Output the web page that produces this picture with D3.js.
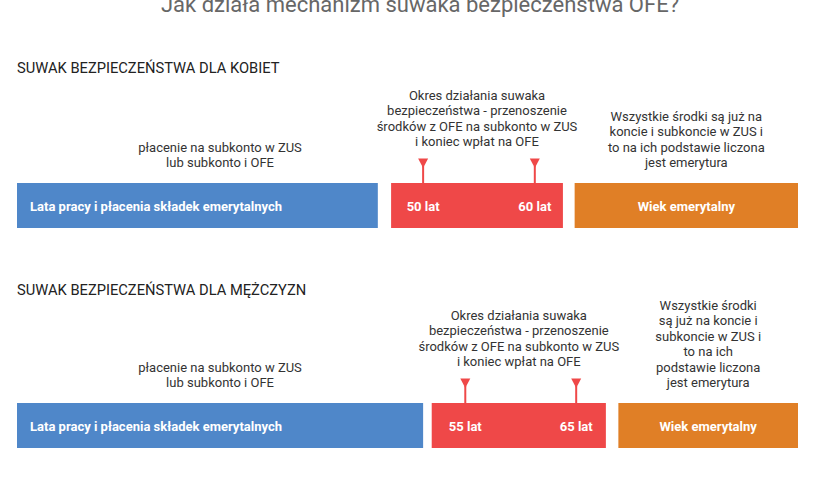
<!DOCTYPE html>
<html>
<head>
<meta charset="utf-8">
<script src="https://cdn.jsdelivr.net/npm/d3@7"></script>
<style>
  html, body { margin: 0; padding: 0; background: #fff; }
  svg { display: block; font-family: Roboto, "Noto Sans", sans-serif; }
</style>
</head>
<body>
<svg id="chart" width="840" height="480"></svg>
<script>
// Data
const TITLE = "Jak działa mechanizm suwaka bezpieczeństwa OFE?";
const ROW_TITLES = ["SUWAK BEZPIECZEŃSTWA DLA KOBIET", "SUWAK BEZPIECZEŃSTWA DLA MĘŻCZYZN"];
const SEGMENT_KEYS = ["praca", "suwak", "emerytura"];
const SEGMENT_LABELS = ["Lata pracy i płacenia składek emerytalnych", "", "Wiek emerytalny"];

// segment extents, in % of the row length
const KOBIETY_SEGMENTS = [[0, 46.2], [47.9, 69.9], [71.4, 100]];
const MEZCZYZNI_SEGMENTS = [[0, 52.0], [53.1, 75.4], [77.0, 100]];

// slider start / end ages and where they sit on the row (%)
const KOBIETY_AGES = [50, 60];
const KOBIETY_AGE_POS = [52.0, 66.3];
const MEZCZYZNI_AGES = [55, 65];
const MEZCZYZNI_AGE_POS = [57.4, 71.6];

// note above the first segment sits at a fixed spot (%)
const FIRST_NOTE_POS = 26.0;

const KOBIETY_NOTES = [
  ["płacenie na subkonto w ZUS", "lub subkonto i OFE"],
  ["Okres działania suwaka", "bezpieczeństwa - przenoszenie", "środków z OFE na subkonto w ZUS", "i koniec wpłat na OFE"],
  ["Wszystkie środki są już na", "koncie i subkoncie w ZUS i", "to na ich podstawie liczona", "jest emerytura"]
];
const MEZCZYZNI_NOTES = [
  ["płacenie na subkonto w ZUS", "lub subkonto i OFE"],
  ["Okres działania suwaka", "bezpieczeństwa - przenoszenie", "środków z OFE na subkonto w ZUS", "i koniec wpłat na OFE"],
  ["Wszystkie środki", "są już na koncie i", "subkoncie w ZUS i", "to na ich", "podstawie liczona", "jest emerytura"]
];

const COLORS = { praca: "#4f87c9", suwak: "#ef4848", emerytura: "#e07f26" };

const rows = [
  { title: ROW_TITLES[0], segments: KOBIETY_SEGMENTS, ages: KOBIETY_AGES, agePos: KOBIETY_AGE_POS, notes: KOBIETY_NOTES },
  { title: ROW_TITLES[1], segments: MEZCZYZNI_SEGMENTS, ages: MEZCZYZNI_AGES, agePos: MEZCZYZNI_AGE_POS, notes: MEZCZYZNI_NOTES }
];

// Layout
const width = 840;
const margin = { left: 17, right: 42 };
const barH = 45;
const rowTop = [183, 403];      // bar top per row
const headingY = [73, 295];     // heading baseline per row
const lineH = 15.5;

const svg = d3.select("#chart");

const x = d3.scaleLinear()
  .domain([0, 100])
  .range([margin.left, width - margin.right]);

svg.append("text")
  .attr("x", width / 2)
  .attr("y", 12)
  .attr("text-anchor", "middle")
  .attr("font-size", "22px")
  .attr("fill", "#676767")
  .text(TITLE);

rows.forEach((row, ri) => {
  const top = rowTop[ri];
  const g = svg.append("g");

  g.append("text")
    .attr("x", margin.left)
    .attr("y", headingY[ri])
    .attr("font-size", "14.7px")
    .attr("fill", "#222")
    .text(row.title);

  const segs = row.segments.map((s, i) => ({
    key: SEGMENT_KEYS[i], x0: s[0], x1: s[1], label: SEGMENT_LABELS[i], notes: row.notes[i]
  }));

  // bars
  g.selectAll("rect.seg")
    .data(segs)
    .join("rect")
    .attr("class", "seg")
    .attr("x", d => x(d.x0))
    .attr("y", top)
    .attr("width", d => x(d.x1) - x(d.x0))
    .attr("height", barH)
    .attr("fill", d => COLORS[d.key]);

  // bar labels
  g.selectAll("text.seg-label")
    .data(segs.filter(d => d.label))
    .join("text")
    .attr("class", "seg-label")
    .attr("x", d => d.key === "praca" ? x(d.x0) + 13 : (x(d.x0) + x(d.x1)) / 2)
    .attr("y", top + barH / 2 + 5)
    .attr("text-anchor", d => d.key === "praca" ? "start" : "middle")
    .attr("font-size", "13px")
    .attr("font-weight", "bold")
    .attr("fill", "#fff")
    .text(d => d.label);

  // age markers on the slider segment
  const ages = row.ages.map((a, i) => ({ age: a, pos: row.agePos[i] }));
  const mk = g.selectAll("g.marker")
    .data(ages)
    .join("g")
    .attr("class", "marker")
    .attr("transform", d => `translate(${x(d.pos)},${top})`);

  mk.append("line")
    .attr("y1", -17)
    .attr("y2", 0)
    .attr("stroke", COLORS.suwak)
    .attr("stroke-width", 2);

  mk.append("path")
    .attr("d", "M-5,-24.5L5,-24.5L0,-15Z")
    .attr("fill", COLORS.suwak);

  mk.append("text")
    .attr("y", barH / 2 + 5)
    .attr("text-anchor", "middle")
    .attr("font-size", "13px")
    .attr("font-weight", "bold")
    .attr("fill", "#fff")
    .text(d => `${d.age} lat`);

  // notes above bars (bottom aligned)
  segs.forEach(d => {
    const cx = d.key === "praca" ? x(FIRST_NOTE_POS) : (x(d.x0) + x(d.x1)) / 2;
    const lastY = d.key === "suwak" ? top - 37 : top - 16;
    const n = d.notes.length;
    g.append("text")
      .attr("text-anchor", "middle")
      .attr("font-size", "13px")
      .attr("fill", "#333")
      .selectAll("tspan")
      .data(d.notes)
      .join("tspan")
      .attr("x", cx)
      .attr("y", (t, i) => lastY - (n - 1 - i) * lineH)
      .text(t => t);
  });
});
</script>
</body>
</html>
